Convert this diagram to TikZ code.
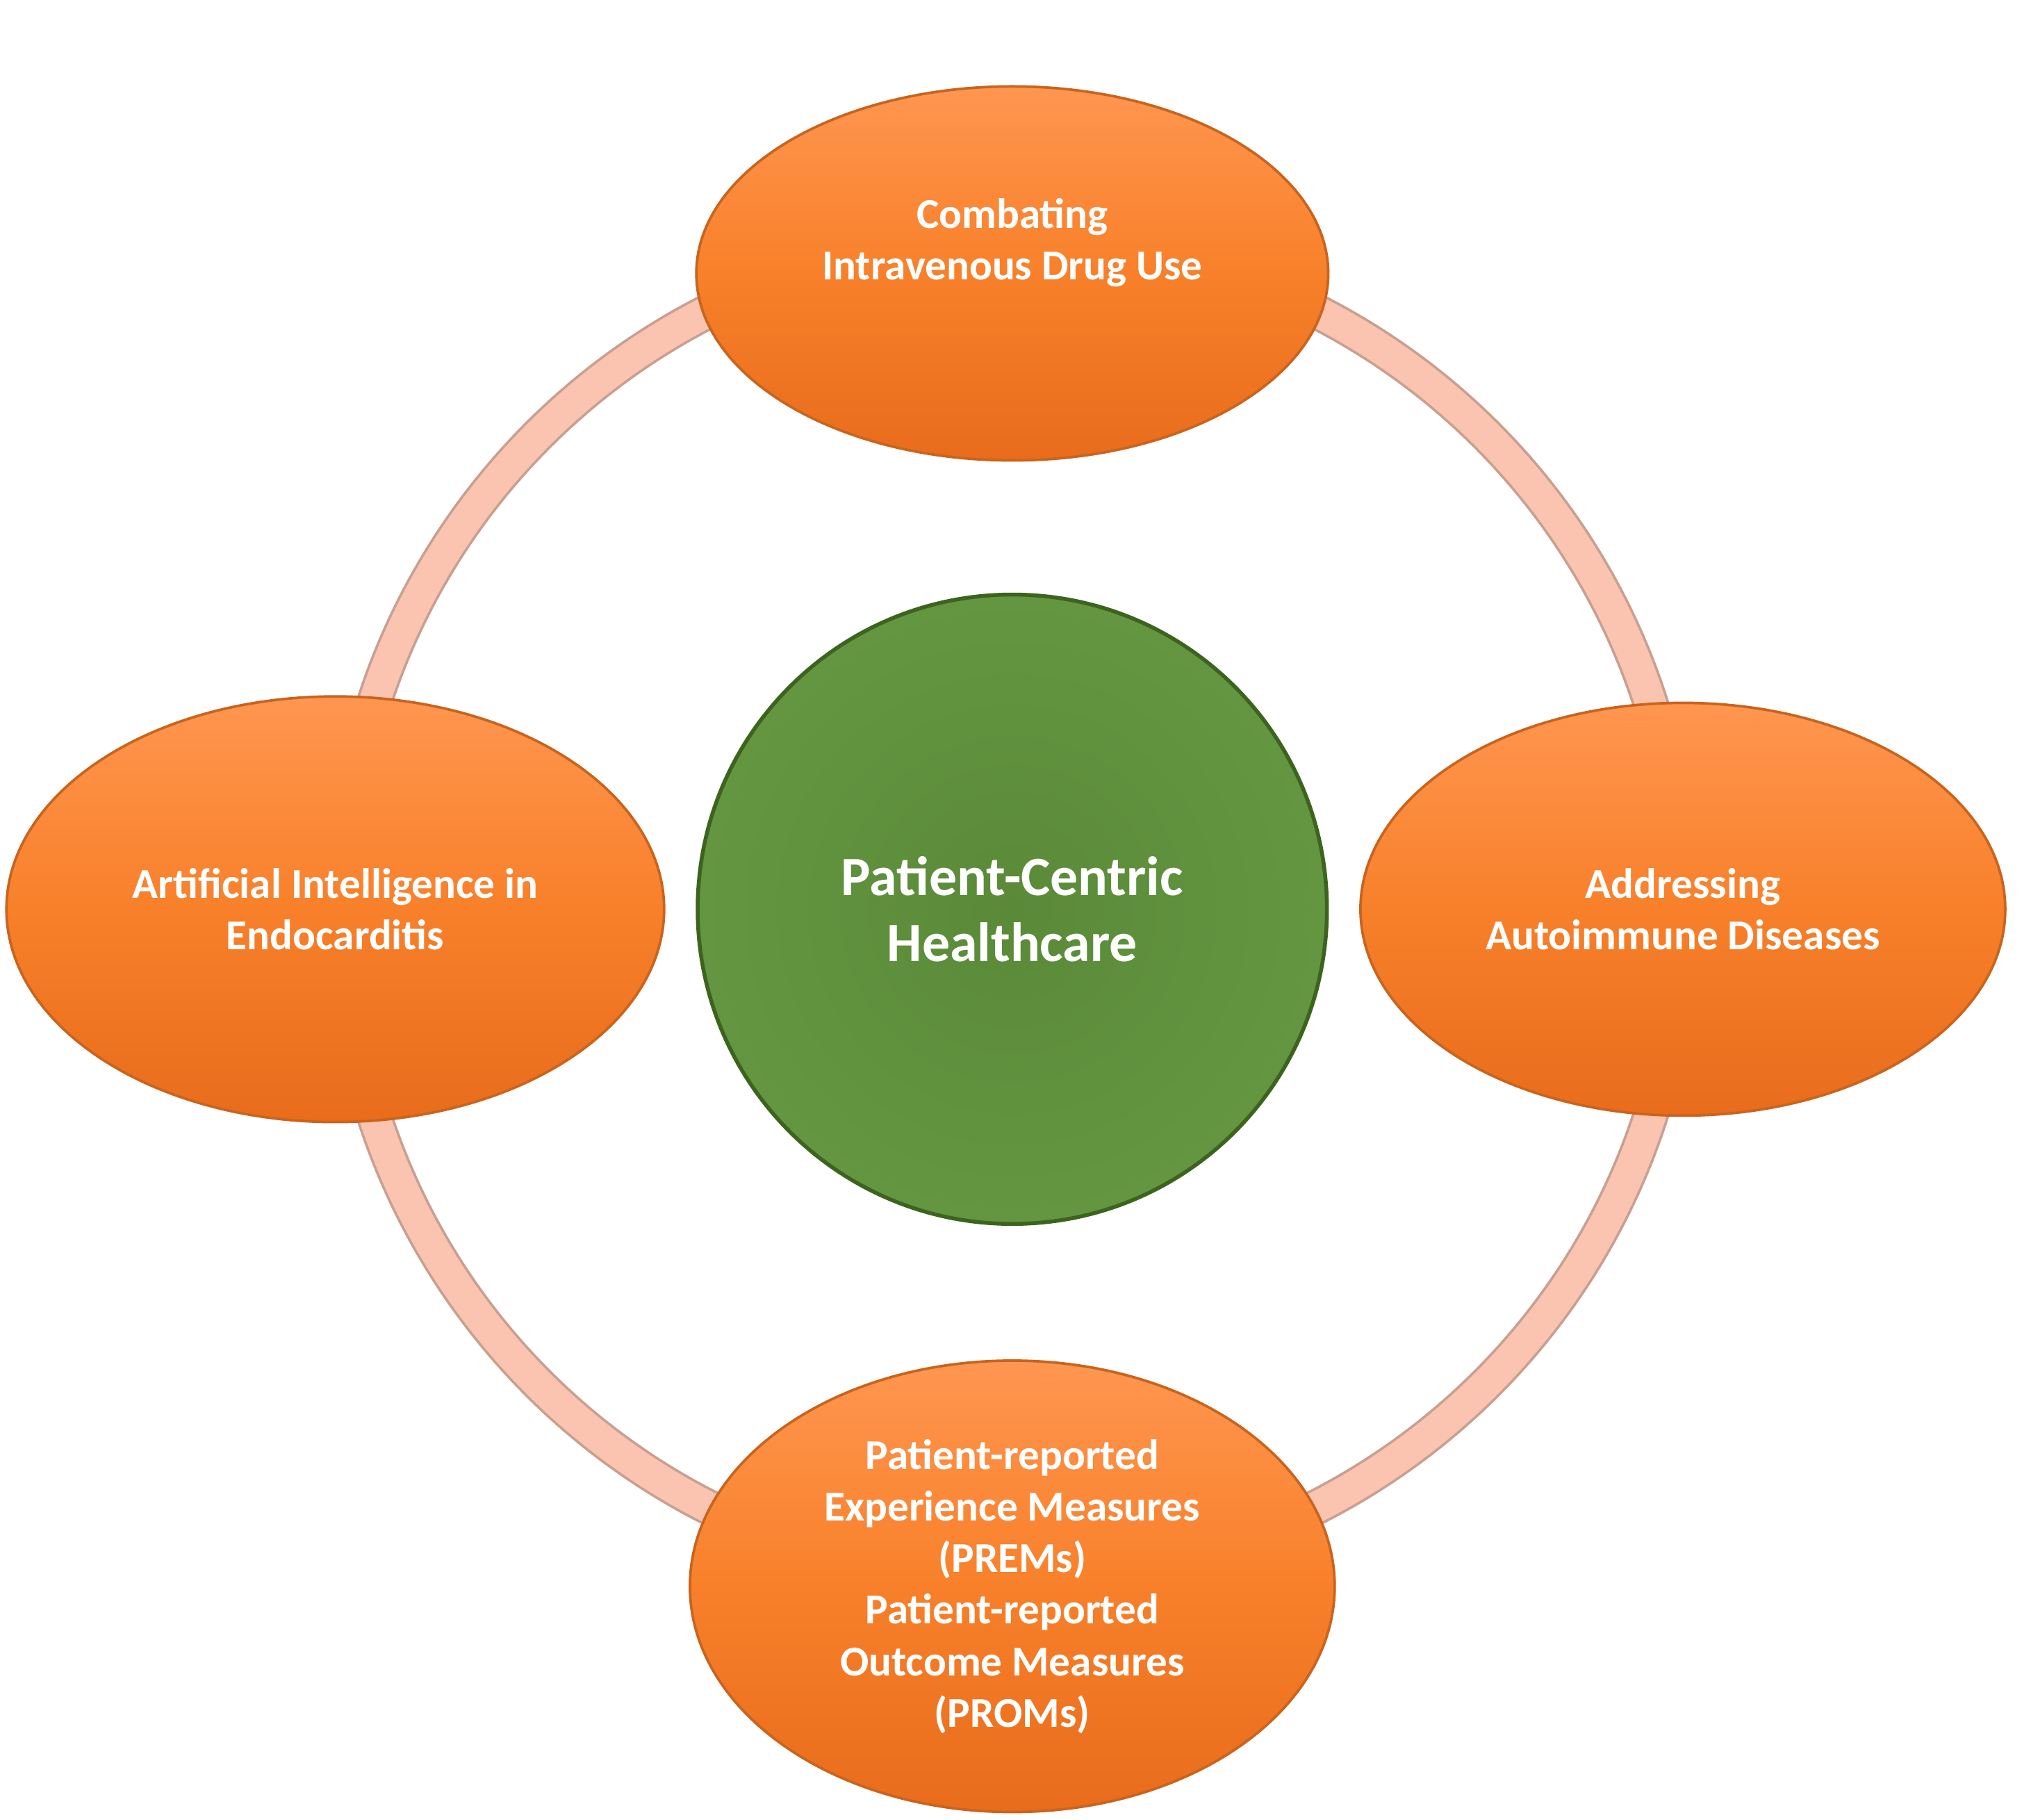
\documentclass[tikz,border=0pt]{standalone}
\usepackage{fontspec}
\setmainfont{Carlito}
\usetikzlibrary{shapes.geometric}
\definecolor{otop}{RGB}{255,150,80}
\definecolor{omid}{RGB}{248,128,42}
\definecolor{obot}{RGB}{232,108,28}
\begin{document}
\begin{tikzpicture}[x=1pt,y=-1pt,
  oval/.style={ellipse,draw={rgb,255:red,200;green,100;blue,30},line width=2pt,top color=otop,bottom color=obot,middle color=omid,text=white,font=\fontsize{33}{40}\selectfont\bfseries,align=center,inner sep=0pt},
]
\useasboundingbox (0,0) rectangle (1568,1411);
\draw[line width=28pt,draw={rgb,255:red,200;green,160;blue,145}] (785,705) circle[radius=520];
\draw[line width=24pt,draw={rgb,255:red,250;green,196;blue,176}] (785,705) circle[radius=520];
\node[oval,minimum width=490pt,minimum height=290pt] (top) at (785,212) {};
\node[text=white,font=\fontsize{33}{40}\selectfont\bfseries,align=center] (toptext) at (785,188) {Combating\\Intravenous Drug Use};
\node[oval,minimum width=510pt,minimum height=330pt] (left) at (260,705) {Artificial Intelligence in\\Endocarditis};
\node[oval,minimum width=500pt,minimum height=320pt] (right) at (1305,705) {Addressing\\Autoimmune Diseases};
\node[oval,minimum width=500pt,minimum height=350pt] (bot) at (785,1230) {Patient-reported\\Experience Measures\\(PREMs)\\Patient-reported\\Outcome Measures\\(PROMs)};
\node[circle,minimum size=488pt,draw={rgb,255:red,60;green,100;blue,30},line width=3pt,
  inner color={rgb,255:red,90;green,138;blue,56},outer color={rgb,255:red,100;green,150;blue,65},
  text=white,font=\fontsize{43}{51}\selectfont\bfseries,align=center] (c) at (785,705) {Patient-Centric\\Healthcare};
\end{tikzpicture}
\end{document}
